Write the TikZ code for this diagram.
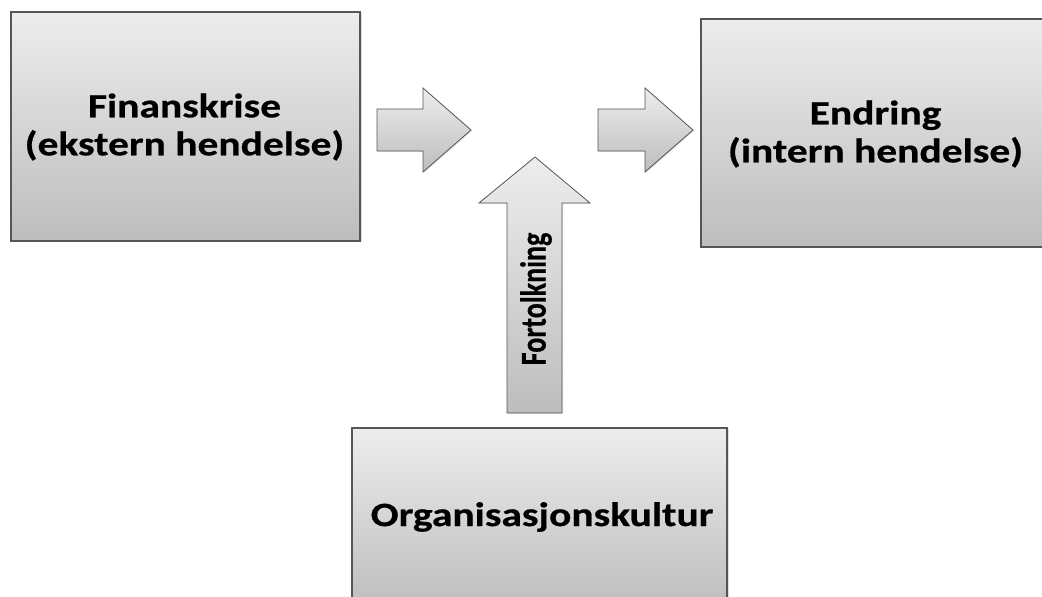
\documentclass[tikz,border=0pt]{standalone}
\usepackage{fontspec}
\setmainfont{Carlito}
\newfontfamily\boxfont[FakeStretch=1.22,FakeBold=0.6]{Carlito}
\newfontfamily\arrowfont[FakeBold=0.5]{Carlito}
\usetikzlibrary{shadows}
\definecolor{gtop}{HTML}{EDEDED}
\definecolor{gbot}{HTML}{BDBDBD}
\definecolor{edge}{HTML}{555555}
\tikzset{
  greybox/.style={draw=edge, line width=1.2pt, top color=gtop, bottom color=gbot,
    drop shadow={opacity=0.25, shadow xshift=1.5pt, shadow yshift=-1.5pt}},
  blockarrow/.style={draw=edge, line width=0.8pt, top color=gtop, bottom color=gbot,
    drop shadow={opacity=0.2, shadow xshift=1pt, shadow yshift=-1pt}},
  boxtext/.style={align=center, font=\boxfont\bfseries\fontsize{34}{38}\selectfont, text=black},
}
\begin{document}
\begin{tikzpicture}[x=1pt,y=1pt]
\useasboundingbox (0,0) rectangle (1042,597);
\clip (0,0) rectangle (1042,597);
\fill[white] (0,0) rectangle (1042,597);
% boxes
\path[greybox] (11,356) rectangle (360,585);
\node[boxtext] (fin) at (184.5,470) {Finanskrise\\(ekstern hendelse)};
\path[greybox] (701,350) rectangle (1050,578);
\node[boxtext] (end) at (875.5,463) {Endring\\(intern hendelse)};
\path[greybox] (352,-12) rectangle (727,169);
\node[boxtext] (org) at (542,80) {Organisasjonskultur};
% block arrows
\path[blockarrow] (377,488) -- (423,488) -- (423,509) -- (471,467) -- (423,425) -- (423,446) -- (377,446) -- cycle;
\path[blockarrow] (598,488) -- (645,488) -- (645,509) -- (693,467) -- (645,425) -- (645,446) -- (598,446) -- cycle;
\path[blockarrow] (507,184) -- (507,394) -- (479,394) -- (535,440) -- (590,394) -- (562,394) -- (562,184) -- cycle;
\node[rotate=90, font=\arrowfont\bfseries\fontsize{28}{30}\selectfont] (fort) at (536,298) {\scalebox{1}[1.3]{Fortolkning}};
\end{tikzpicture}
\end{document}
